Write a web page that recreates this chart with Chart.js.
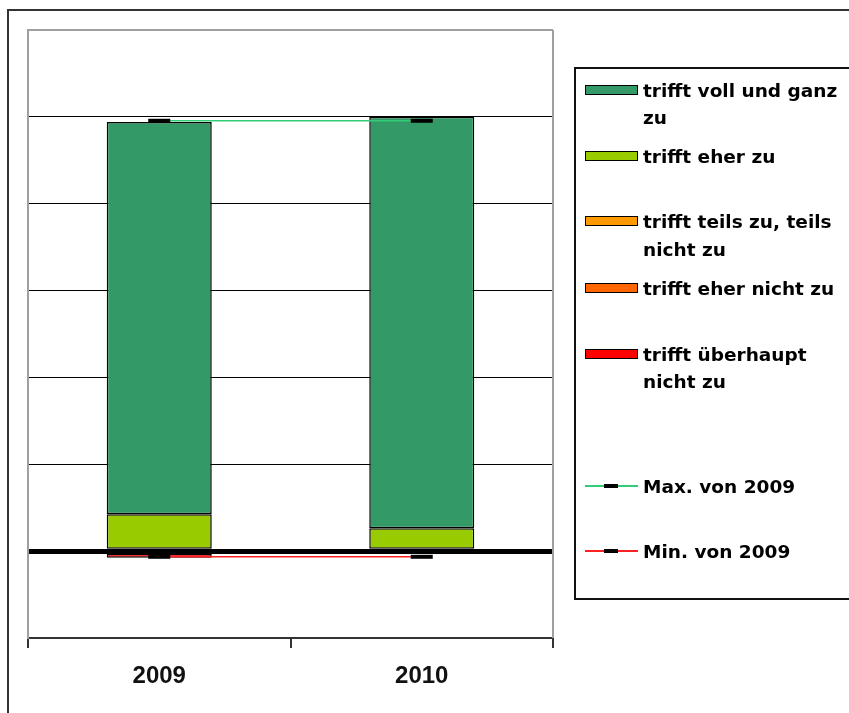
<!DOCTYPE html>
<html>
<head>
<meta charset="utf-8">
<script src="https://cdn.jsdelivr.net/npm/chart.js@4/dist/chart.umd.min.js"></script>
<style>
  html, body { margin:0; padding:0; background:#fff; }
  body { width:849px; height:713px; position:relative; overflow:hidden; }
  #frame { position:absolute; left:7px; top:9px; width:900px; height:800px; border-left:2px solid #333; border-top:2px solid #333; }
  #wrap { position:absolute; left:0; top:0; width:849px; height:713px; }
  #legend { position:absolute; left:574px; top:67px; width:280px; height:529px; border:2px solid #111; box-sizing:content-box; }
  .item { position:absolute; left:67px; font-family:"DejaVu Sans"; font-weight:bold; font-size:18.5px; line-height:27px; color:#000; white-space:nowrap; }
  .sw { position:absolute; left:9px; width:51px; height:8px; border:1.5px solid #000; }
  .ln { position:absolute; left:9px; width:53px; height:2px; }
  .mk { position:absolute; left:28px; width:14px; height:4px; background:#000; }
</style>
</head>
<body>
<div id="frame"></div>
<div id="wrap"><canvas id="c" width="849" height="713"></canvas></div>
<div id="legend"></div>
<script>
const categories = ["2009", "2010"];
const seriesNames = ["trifft voll und ganz zu", "trifft eher zu", "trifft teils zu, teils nicht zu", "trifft eher nicht zu", "trifft überhaupt nicht zu"];
const legendLines = [["trifft voll und ganz", "zu"], ["trifft eher zu"], ["trifft teils zu, teils", "nicht zu"], ["trifft eher nicht zu"], ["trifft überhaupt", "nicht zu"]];
const vollUndGanz = [90.3, 94.7];
const eherZu = [8.5, 5.3];
const teils = [0, 0];
const eherNicht = [0, 0];
const ueberhauptNicht = [-1.5, 0];
const maxVon2009 = [99.1, 99.1];
const minVon2009 = [-1.3, -1.3];
const yTicks = [-20, 0, 20, 40, 60, 80, 100, 120];

const colors = ["#339966", "#99cc00", "#ff9900", "#ff6600", "#ff0000"];
const barSeries = [vollUndGanz, eherZu, teils, eherNicht, ueberhauptNicht];

// stacking order: bottom positive first
const stackOrder = [1, 0, 2, 3, 4];
const datasets = [];
stackOrder.forEach(i => {
  datasets.push({
    type: 'bar', label: seriesNames[i], data: barSeries[i],
    backgroundColor: colors[i], borderColor: '#000', borderWidth: 1.5, borderSkipped: false, inflateAmount: 0,
    stack: 's', order: 2, categoryPercentage: 1.0, barPercentage: 0.4
  });
});
datasets.push({
  type: 'line', label: 'Max. von 2009', data: maxVon2009,
  borderColor: '#33cc77', borderWidth: 1.5, pointStyle: 'line', pointRadius: 11,
  pointBorderColor: '#000', pointBorderWidth: 4, pointBackgroundColor: '#000', order: 0, fill: false
});
datasets.push({
  type: 'line', label: 'Min. von 2009', data: minVon2009,
  borderColor: '#ff2222', borderWidth: 1.5, pointStyle: 'line', pointRadius: 11,
  pointBorderColor: '#000', pointBorderWidth: 4, pointBackgroundColor: '#000', order: 0, fill: false
});

const borderPlugin = {
  id: 'plotBorder',
  beforeDatasetsDraw(chart) {
    const {ctx, chartArea:a} = chart;
    ctx.save();
    ctx.strokeStyle = '#a0a0a0'; ctx.lineWidth = 2;
    ctx.beginPath(); ctx.moveTo(a.right, a.top); ctx.lineTo(a.right, a.bottom); ctx.stroke();
    ctx.restore();
  }
};

new Chart(document.getElementById('c'), {
  type: 'bar',
  data: { labels: categories, datasets },
  plugins: [borderPlugin],
  options: {
    responsive: false, animation: false,
    layout: { padding: { left: 28, right: 296, top: 30, bottom: 0 } },
    plugins: { legend: { display: false }, tooltip: { enabled: false } },
    scales: {
      x: {
        stacked: true, offset: true,
        grid: { offset: true, drawOnChartArea: false, drawTicks: true, tickLength: 10, color: '#333', lineWidth: 2 },
        border: { display: true, color: '#333', width: 2 },
        ticks: { color: '#111', font: { family: 'Liberation Sans', weight: 'bold', size: 24 }, padding: 14 },
        afterFit(s) { s.height = 75; }
      },
      y: {
        stacked: true, min: yTicks[0], max: yTicks[yTicks.length - 1],
        afterBuildTicks(s) { s.ticks = yTicks.map(v => ({ value: v })); },
        ticks: { display: false },
        grid: {
          drawTicks: false,
          color: c => c.tick.value === 120 ? '#a0a0a0' : (c.tick.value === -20 ? 'rgba(0,0,0,0)' : '#000'),
          lineWidth: c => c.tick.value === 0 ? 5 : (c.tick.value === 120 ? 2 : 1)
        },
        border: { display: true, color: '#a0a0a0', width: 2 },
        afterFit(s) { s.width = 0; }
      }
    }
  }
});

// HTML legend
const leg = document.getElementById('legend');
const legTop = 69;
const itemCenters = [[90, 117], [156], [221, 249], [288], [354, 381]];
legendLines.forEach((lines, i) => {
  const sw = document.createElement('div');
  sw.className = 'sw';
  sw.style.top = (itemCenters[i][0] - legTop - 5) + 'px';
  sw.style.background = colors[i];
  leg.appendChild(sw);
  lines.forEach((t, j) => {
    const d = document.createElement('div');
    d.className = 'item';
    d.style.top = (itemCenters[i][j] - legTop - 13.5) + 'px';
    d.textContent = t;
    leg.appendChild(d);
  });
});
[["Max. von 2009", 486, '#33cc77'], ["Min. von 2009", 551, '#ff2222']].forEach(([t, y, col]) => {
  const ln = document.createElement('div');
  ln.className = 'ln'; ln.style.top = (y - legTop - 1) + 'px'; ln.style.background = col;
  leg.appendChild(ln);
  const mk = document.createElement('div');
  mk.className = 'mk'; mk.style.top = (y - legTop - 2) + 'px';
  leg.appendChild(mk);
  const d = document.createElement('div');
  d.className = 'item'; d.style.top = (y - legTop - 13.5) + 'px'; d.textContent = t;
  leg.appendChild(d);
});
</script>
</body>
</html>
